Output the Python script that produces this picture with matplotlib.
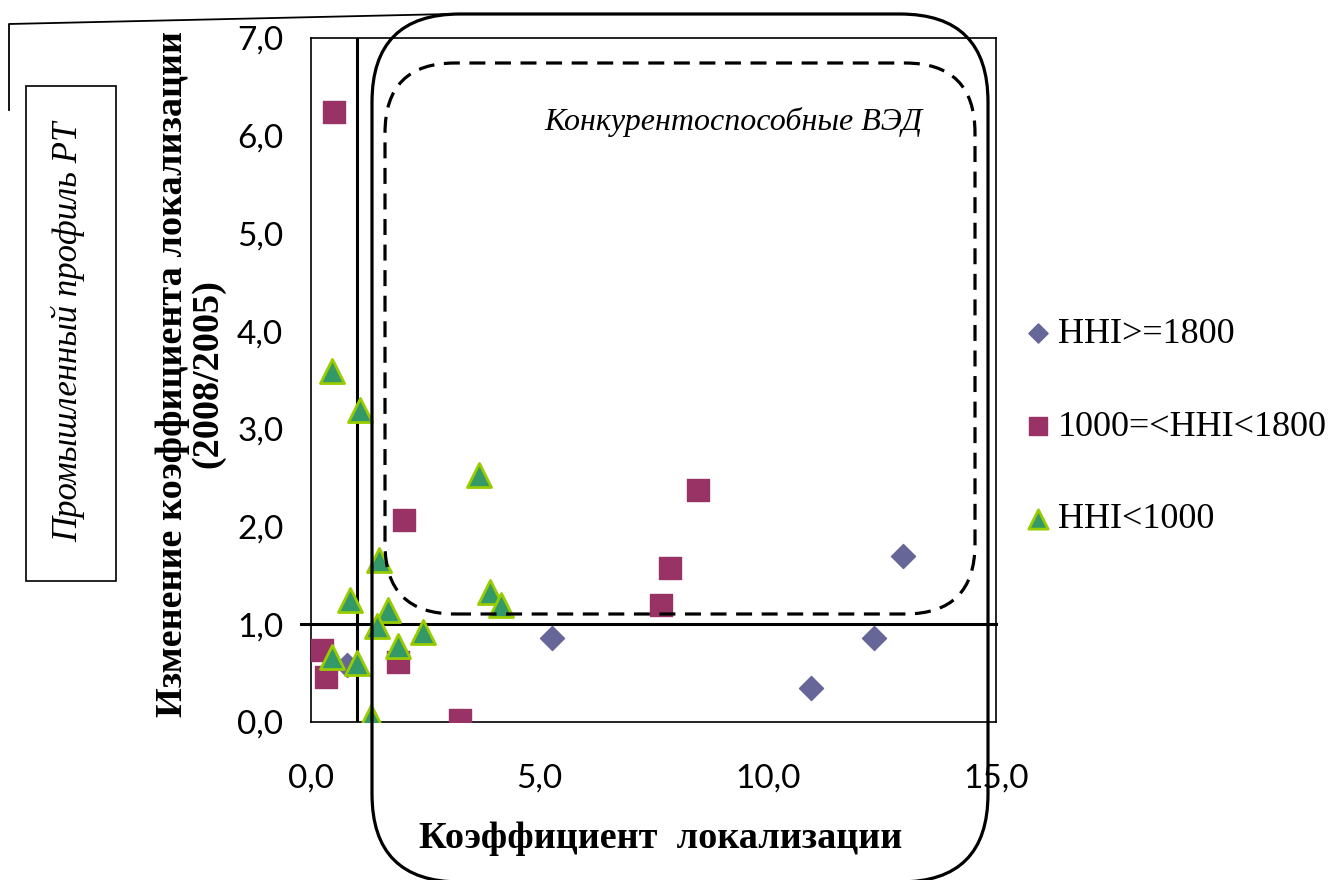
import matplotlib
matplotlib.use("Agg")
import matplotlib.pyplot as plt
from matplotlib.patches import FancyBboxPatch, Rectangle
from matplotlib.lines import Line2D

# данные (оценка по картинке)
hhi_high_x = [0.78, 5.28, 10.95, 12.33, 12.96]
hhi_high_y = [0.58, 0.86, 0.35, 0.86, 1.70]

hhi_mid_x = [0.50, 0.23, 0.32, 1.90, 3.26, 2.03, 7.66, 7.86, 8.47]
hhi_mid_y = [6.24, 0.74, 0.46, 0.61, 0.02, 2.07, 1.20, 1.58, 2.37]

hhi_low_x = [0.47, 1.08, 3.67, 1.48, 0.86, 1.69, 1.44, 2.45, 1.91, 0.47, 1.00, 1.31, 3.92, 4.16]
hhi_low_y = [3.59, 3.19, 2.53, 1.66, 1.25, 1.15, 0.98, 0.92, 0.78, 0.67, 0.60, 0.05, 1.33, 1.20]

labels = ["HHI>=1800", "1000=<HHI<1800", "HHI<1000"]
x_ticks = [0, 5, 10, 15]
y_ticks = [0, 1, 2, 3, 4, 5, 6, 7]

W, H = 1338, 880
fig = plt.figure(figsize=(W / 100, H / 100), dpi=100)
ax = fig.add_axes([311 / W, 1 - 722 / H, 685 / W, 684 / H])

ax.scatter(hhi_high_x, hhi_high_y, marker="D", s=150, color="#666699", zorder=3, label=labels[0])
ax.scatter(hhi_mid_x, hhi_mid_y, marker="s", s=260, color="#993366", zorder=3, label=labels[1])
ax.scatter(hhi_low_x, hhi_low_y, marker="^", s=300, color="#339966", edgecolor="#99CC00",
           linewidth=2, zorder=4, label=labels[2])

# линии x=1 и y=1
ax.axvline(1.0, color="black", lw=2.2, zorder=2)
ax.axhline(1.0, color="black", lw=2.2, zorder=2, xmin=-0.015, clip_on=False)

ax.set_xlim(0, 15)
ax.set_ylim(0, 7)
ax.set_xticks(x_ticks)
ax.set_yticks(y_ticks)
ax.set_xticklabels([f"{v:.1f}".replace(".", ",") for v in x_ticks], fontsize=24, family="Lato")
ax.set_yticklabels([f"{v:.1f}".replace(".", ",") for v in y_ticks], fontsize=24, family="Lato")
ax.tick_params(axis="y", length=0, pad=20)
ax.tick_params(axis="x", length=0, pad=30)
for s in ax.spines.values():
    s.set_linewidth(1.2)

ax.legend(loc="center left", bbox_to_anchor=(1024 / W, 1 - 427 / H), bbox_transform=fig.transFigure,
          frameon=False, handlelength=0.8, handletextpad=0.15, labelspacing=1.65, borderaxespad=0,
          borderpad=0, prop={"family": "Liberation Serif", "size": 26}, markerscale=0.8)

# надписи осей
fig.text(661 / W, 1 - 838 / H, "Коэффициент  локализации", ha="center", va="center",
         fontsize=27.5, fontweight="bold", family="Liberation Serif")
fig.text(190 / W, 1 - 374 / H, "Изменение коэффициента локализации\n(2008/2005)", ha="center",
         va="center", rotation=90, fontsize=27.5, fontweight="bold", family="Liberation Serif",
         linespacing=1.0)

# рамки и выделения (в пикселях)
def px(x, y):
    return x, H - y

big = FancyBboxPatch(px(372, 882), 988 - 372, 882 - 14, boxstyle="round,pad=0,rounding_size=88",
                     transform=None, fill=False, lw=2.3, ec="black", zorder=5)
fig.patches.append(big)
dash = FancyBboxPatch(px(385, 614), 975 - 385, 614 - 63, boxstyle="round,pad=0,rounding_size=70",
                      transform=None, fill=False, lw=2.3, ec="black", ls=(0, (5, 3)), zorder=5)
fig.patches.append(dash)
fig.text(733 / W, 1 - 122 / H, "Конкурентоспособные ВЭД", ha="center", va="center",
         fontsize=23, style="italic", family="Liberation Serif")

box = Rectangle(px(26, 581), 116 - 26, 581 - 86, transform=None, fill=False, lw=1.2, ec="black")
fig.patches.append(box)
fig.text(68 / W, 1 - 332 / H, "Промышленный профиль РТ", ha="center", va="center", rotation=90,
         fontsize=25, style="italic", family="Liberation Serif")
fig.lines.append(Line2D([9, 9, 450], [H - 110, H - 24, H - 14], transform=None, color="black", lw=1.3))

fig.savefig("out.png", dpi=100)
